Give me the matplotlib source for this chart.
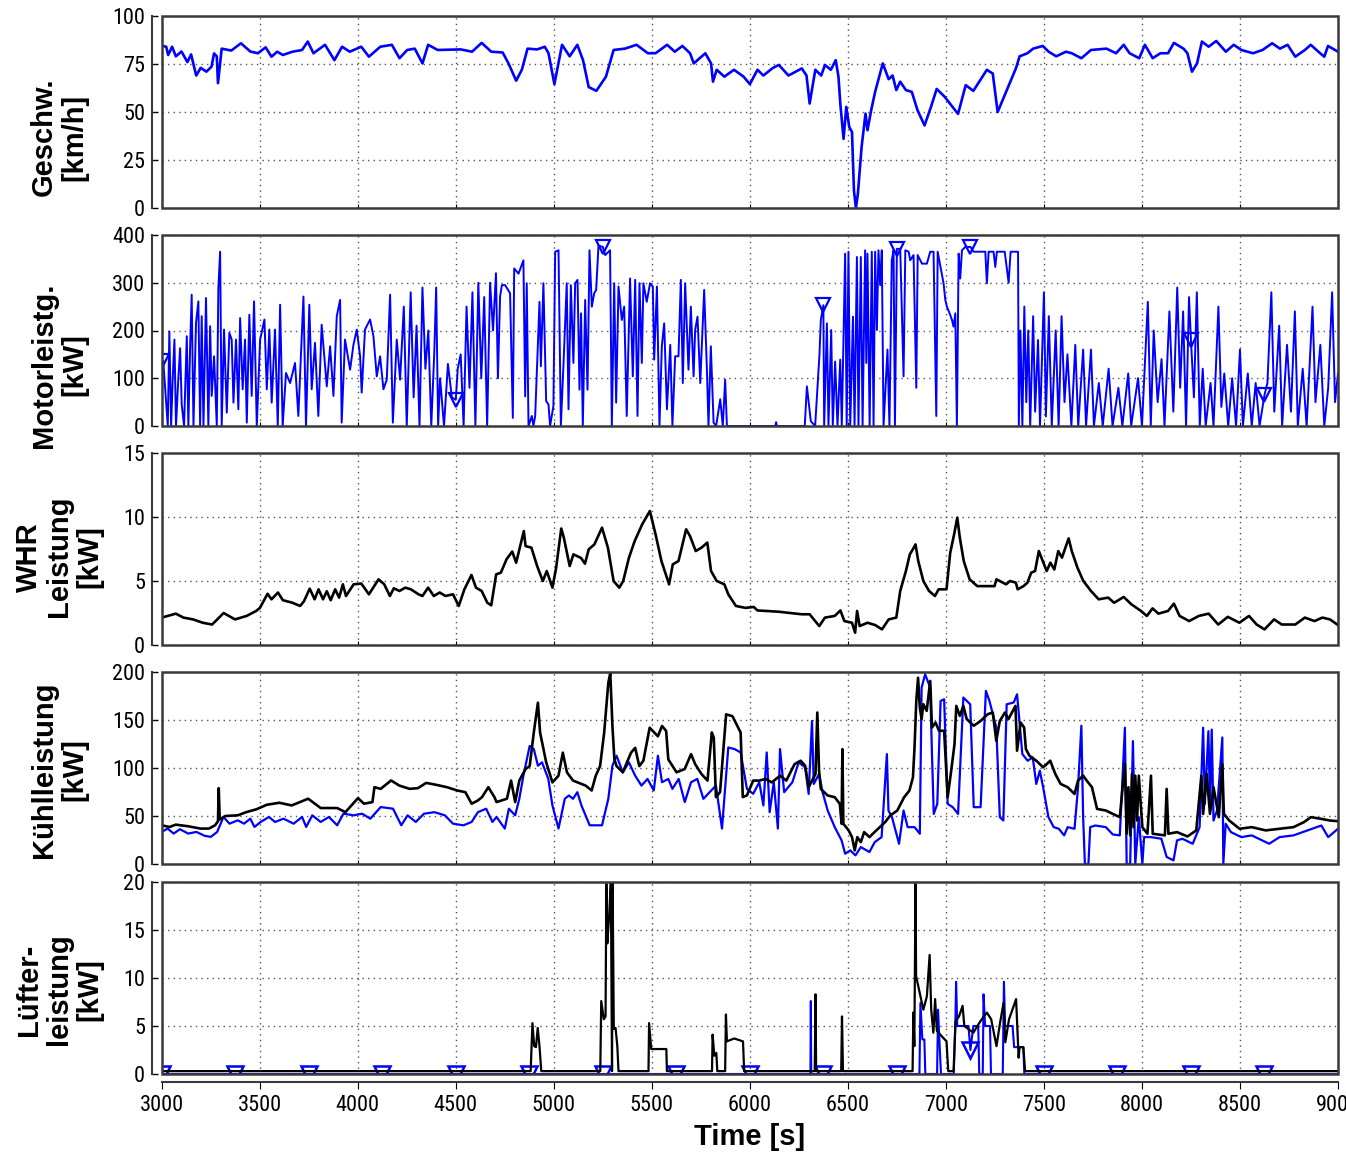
import numpy as np
import matplotlib
matplotlib.use("Agg")
import matplotlib.pyplot as plt
from matplotlib.patches import Rectangle

# ── colours / fonts ───────────────────────────────────────────────────────────
BLUE = "#0000FF"
BLACK = "#000000"
FRAME = "#3a3a3a"
GRID = "#555555"
TICK_FONT = ["Liberation Sans Narrow", "Roboto Condensed", "DejaVu Sans"]
LABEL_FONT = ["Liberation Sans", "DejaVu Sans"]

plt.rcParams["font.family"] = TICK_FONT
plt.rcParams["font.stretch"] = "condensed"

# ── data ──────────────────────────────────────────────────────────────────────
speed_t = [3000, 3023, 3033, 3053, 3072, 3101, 3131, 3150, 3176, 3199, 3228, 3254, 3267, 3281, 3287,
           3306, 3355, 3404, 3452, 3491, 3530, 3560, 3589, 3618, 3667, 3716, 3745, 3774, 3833, 3881,
           3920, 3959, 4018, 4057, 4115, 4174, 4213, 4252, 4291, 4330, 4359, 4408, 4525, 4583, 4632,
           4681, 4739, 4769, 4808, 4837, 4866, 4915, 4954, 4973, 5003, 5042, 5081, 5120, 5149, 5178,
           5217, 5266, 5305, 5363, 5422, 5480, 5519, 5578, 5617, 5656, 5695, 5714, 5773, 5802, 5812,
           5831, 5870, 5919, 5968, 6000, 6039, 6069, 6118, 6148, 6197, 6265, 6289, 6305, 6334, 6364,
           6383, 6413, 6438, 6452, 6462, 6478, 6492, 6507, 6521, 6531, 6541, 6551, 6570, 6590, 6600,
           6619, 6639, 6678, 6708, 6728, 6747, 6767, 6796, 6826, 6855, 6891, 6924, 6953, 6993, 7062,
           7101, 7140, 7209, 7239, 7264, 7307, 7357, 7376, 7416, 7445, 7494, 7524, 7563, 7612, 7642,
           7691, 7740, 7819, 7868, 7907, 7937, 7986, 8015, 8055, 8094, 8133, 8163, 8212, 8232, 8255,
           8281, 8306, 8340, 8379, 8428, 8468, 8507, 8566, 8615, 8664, 8704, 8743, 8782, 8831, 8861,
           8900, 8930, 8949, 9000]
speed_v = [84.5, 84, 79.7, 84, 79, 81.5, 76, 80, 69, 73, 71, 73.6, 80.5, 79, 65,
           83, 82, 85.8, 81.5, 80.6, 83.7, 78.8, 81.4, 79.7, 81.4, 82.3, 86.7, 80.6, 85, 77,
           84, 81.4, 84, 78.8, 84, 85, 78, 82.3, 83, 75.3, 85, 82.3, 82.6, 81.4, 86,
           81.4, 81, 75.3, 66.3, 72, 83, 82.6, 84, 80.6, 64.5, 85, 79, 85, 77, 63,
           61, 68.4, 82.3, 83, 85, 80.6, 80.6, 85, 81.4, 84.4, 80.6, 75.3, 80.6, 75.3, 65.8,
           72, 68.4, 72, 68.4, 64.5, 72, 69, 73, 74.5, 69, 72.7, 69, 54.4, 72, 69,
           74.5, 72, 77, 68.4, 53.6, 36, 52.7, 42.2, 39.6, 9.1, 0, 7.4, 31.8, 49.2, 40.5,
           51, 60.5, 75.3, 67.1, 69, 61.4, 65.8, 61.4, 60.5, 51, 43, 52.7, 62, 58, 49,
           64, 61, 72, 70, 50, 60.5, 72.7, 79, 80.6, 83, 84.4, 81.4, 79, 81.4, 80.6,
           78, 82.3, 83, 80.6, 85, 80.6, 78, 85, 78, 80.6, 80.6, 86, 83, 80.6, 71,
           75.3, 86.7, 84, 87, 81.4, 85, 82.3, 80.6, 82.3, 85.8, 83, 85, 78.8, 82.3, 85,
           81.4, 78.8, 84.4, 81.4]

motor_t = [3000, 3008, 3020, 3031, 3039, 3048, 3056, 3065, 3073, 3085, 3094, 3102, 3114, 3128, 3136,
           3145, 3153, 3162, 3175, 3187, 3196, 3204, 3213, 3226, 3238, 3247, 3255, 3267, 3281, 3289,
           3298, 3306, 3318, 3332, 3345, 3357, 3366, 3379, 3391, 3400, 3413, 3425, 3434, 3447, 3459,
           3471, 3485, 3502, 3524, 3536, 3549, 3561, 3578, 3592, 3604, 3617, 3634, 3655, 3680, 3697,
           3723, 3736, 3753, 3765, 3782, 3799, 3816, 3842, 3859, 3876, 3893, 3910, 3918, 3935, 3961,
           3978, 3995, 4012, 4020, 4037, 4063, 4080, 4097, 4114, 4131, 4148, 4165, 4179, 4199, 4216,
           4235, 4250, 4270, 4285, 4300, 4315, 4330, 4345, 4360, 4375, 4390, 4400, 4410, 4420, 4440,
           4460, 4480, 4500, 4510, 4525, 4540, 4555, 4570, 4585, 4600, 4615, 4630, 4645, 4660, 4675,
           4690, 4705, 4715, 4726, 4735, 4752, 4777, 4791, 4798, 4820, 4845, 4854, 4862, 4871, 4888,
           4896, 4905, 4927, 4934, 4947, 4961, 4973, 4981, 4998, 5007, 5024, 5036, 5049, 5066, 5075,
           5087, 5100, 5109, 5121, 5131, 5139, 5148, 5160, 5172, 5182, 5194, 5206, 5216, 5228, 5250,
           5262, 5287, 5296, 5308, 5318, 5330, 5347, 5359, 5372, 5389, 5403, 5415, 5427, 5437, 5449,
           5457, 5474, 5491, 5505, 5512, 5526, 5539, 5551, 5563, 5577, 5594, 5605, 5619, 5636, 5648,
           5658, 5670, 5687, 5699, 5713, 5721, 5733, 5747, 5755, 5767, 5781, 5789, 5801, 5815, 5828,
           5849, 5862, 5874, 5883, 6130, 6134, 6138, 6280, 6291, 6311, 6333, 6355, 6362, 6375, 6379,
           6393, 6401, 6415, 6423, 6435, 6447, 6461, 6469, 6486, 6494, 6503, 6512, 6526, 6534, 6546,
           6554, 6566, 6575, 6588, 6594, 6600, 6611, 6622, 6631, 6639, 6648, 6656, 6665, 6673, 6682,
           6696, 6702, 6712, 6724, 6733, 6740, 6750, 6767, 6784, 6793, 6810, 6818, 6835, 6849, 6856,
           6878, 6903, 6920, 6937, 6951, 6958, 6988, 6997, 7005, 7019, 7031, 7039, 7048, 7056, 7065,
           7073, 7082, 7099, 7125, 7141, 7175, 7201, 7209, 7218, 7243, 7252, 7260, 7277, 7300, 7320,
           7330, 7350, 7368, 7372, 7380, 7390, 7400, 7410, 7420, 7430, 7445, 7455, 7470, 7480, 7500,
           7510, 7525, 7540, 7560, 7575, 7590, 7605, 7620, 7640, 7660, 7675, 7700, 7715, 7740, 7755,
           7780, 7800, 7830, 7850, 7880, 7900, 7930, 7945, 7980, 8000, 8030, 8045, 8060, 8080, 8100,
           8115, 8140, 8160, 8180, 8195, 8210, 8225, 8240, 8250, 8265, 8280, 8295, 8310, 8325, 8350,
           8365, 8390, 8405, 8420, 8440, 8460, 8480, 8500, 8515, 8540, 8560, 8580, 8600, 8625, 8640,
           8660, 8675, 8700, 8715, 8740, 8760, 8780, 8795, 8820, 8840, 8870, 8885, 8910, 8930, 8950,
           8970, 8985, 9000]
motor_v = [136, 136, 66, 0, 198, 0, 97, 181, 0, 101, 163, 45, 0, 188, 0,
           167, 275, 0, 216, 261, 0, 230, 0, 268, 0, 209, 63, 146, 0, 289,
           365, 0, 202, 28, 195, 181, 49, 181, 35, 226, 77, 181, 7, 233, 63,
           261, 0, 181, 223, 77, 202, 49, 202, 0, 254, 0, 111, 90, 132, 21,
           271, 0, 254, 77, 174, 21, 212, 83, 167, 63, 230, 264, 7, 181, 118,
           170, 202, 146, 70, 202, 223, 188, 104, 146, 77, 97, 275, 7, 181, 97,
           250, 0, 280, 60, 210, 0, 290, 120, 200, 0, 150, 290, 0, 100, 0,
           130, 60, 55, 120, 150, 0, 250, 80, 280, 0, 300, 100, 270, 0, 300,
           200, 320, 100, 271, 295, 295, 278, 17, 330, 319, 347, 62, 299, 0, 21,
           0, 21, 260, 125, 299, 52, 45, 0, 42, 365, 368, 0, 125, 299, 35,
           295, 132, 299, 306, 76, 236, 0, 264, 76, 368, 250, 278, 285, 378, 375,
           358, 368, 0, 299, 49, 292, 222, 250, 21, 309, 104, 306, 21, 299, 132,
           299, 260, 299, 292, 139, 292, 0, 167, 215, 35, 170, 0, 146, 146, 306,
           90, 299, 118, 250, 104, 201, 229, 90, 167, 285, 118, 0, 167, 7, 0,
           56, 0, 97, 0, 0, 8, 0, 0, 83, 10, 0, 149, 222, 253, 0,
           215, 0, 201, 0, 135, 0, 139, 0, 361, 0, 365, 0, 229, 0, 354,
           0, 354, 0, 368, 132, 361, 0, 365, 0, 365, 201, 368, 295, 368, 0,
           111, 160, 0, 347, 368, 0, 371, 371, 104, 368, 365, 347, 358, 80, 358,
           340, 340, 365, 365, 21, 365, 299, 264, 250, 236, 222, 208, 236, 0, 361,
           309, 368, 375, 375, 365, 365, 365, 299, 365, 365, 333, 365, 365, 365, 300,
           365, 365, 365, 0, 200, 0, 250, 50, 200, 0, 230, 30, 180, 0, 280,
           20, 230, 0, 200, 0, 230, 50, 150, 0, 170, 0, 160, 0, 160, 0,
           90, 0, 120, 0, 80, 0, 110, 0, 100, 0, 260, 0, 200, 50, 140,
           0, 240, 30, 290, 80, 240, 0, 270, 180, 60, 280, 0, 120, 0, 90,
           0, 250, 40, 110, 0, 100, 0, 160, 0, 110, 0, 90, 0, 65, 90,
           280, 30, 210, 0, 170, 30, 240, 0, 120, 0, 250, 50, 170, 0, 80,
           280, 50, 110]
motor_mark_t = [3000, 4500, 5250, 6375, 6750, 7125, 8250, 8625]

whr_t = [3000, 3072, 3111, 3160, 3209, 3257, 3277, 3316, 3374, 3433, 3482, 3501, 3540, 3560, 3593,
         3618, 3667, 3706, 3725, 3755, 3780, 3800, 3823, 3842, 3862, 3885, 3905, 3924, 3940, 3979,
         4018, 4057, 4106, 4135, 4164, 4184, 4213, 4242, 4271, 4310, 4330, 4359, 4388, 4418, 4447,
         4486, 4515, 4544, 4580, 4603, 4632, 4661, 4681, 4706, 4730, 4759, 4788, 4808, 4847, 4856,
         4886, 4915, 4944, 4964, 4993, 5012, 5038, 5051, 5081, 5100, 5139, 5159, 5178, 5207, 5246,
         5276, 5305, 5334, 5354, 5383, 5412, 5451, 5490, 5519, 5549, 5588, 5607, 5636, 5675, 5695,
         5724, 5753, 5783, 5802, 5831, 5870, 5890, 5929, 5978, 6020, 6039, 6147, 6265, 6305, 6354,
         6383, 6433, 6462, 6482, 6521, 6537, 6547, 6560, 6600, 6639, 6674, 6708, 6747, 6767, 6796,
         6816, 6836, 6845, 6859, 6885, 6914, 6944, 6963, 7003, 7022, 7042, 7058, 7071, 7091, 7121,
         7160, 7248, 7258, 7307, 7327, 7357, 7366, 7396, 7416, 7435, 7455, 7474, 7494, 7514, 7533,
         7553, 7573, 7592, 7626, 7642, 7671, 7701, 7740, 7779, 7828, 7858, 7907, 7946, 7995, 8025,
         8054, 8084, 8133, 8163, 8192, 8241, 8290, 8340, 8389, 8438, 8497, 8546, 8585, 8625, 8674,
         8713, 8782, 8831, 8880, 8920, 8959, 9000]
whr_v = [2.14, 2.45, 2.14, 2.0, 1.74, 1.6, 1.9, 2.5, 2.0, 2.27, 2.66, 2.9, 4.0, 3.57, 4.1,
         3.5, 3.3, 3.05, 3.4, 4.4, 3.57, 4.35, 3.57, 4.2, 3.5, 4.35, 3.7, 4.74, 3.83, 4.74,
         4.8, 3.96, 5.13, 4.74, 3.83, 4.43, 4.22, 4.48, 4.35, 3.96, 3.83, 4.48, 3.83, 4.1, 3.83,
         3.96, 3.05, 4.35, 5.47, 4.48, 4.22, 3.3, 3.1, 5.52, 5.65, 6.7, 7.3, 6.43, 8.9, 7.73,
         7.6, 6.17, 5.0, 5.78, 4.48, 6.04, 9.1, 8.4, 6.17, 7.08, 6.8, 6.35, 7.47, 7.86, 9.17,
         7.6, 5.0, 4.48, 5.0, 6.8, 8.1, 9.43, 10.47, 8.65, 6.56, 4.74, 6.3, 6.56, 9.04, 8.5,
         7.34, 7.6, 8.0, 5.78, 5.0, 4.74, 3.96, 3.05, 2.9, 2.97, 2.7, 2.6, 2.4, 2.4, 1.48,
         2.14, 2.27, 2.7, 1.87, 1.74, 0.96, 2.66, 1.48, 1.74, 1.56, 1.22, 2.0, 2.14, 4.22, 5.78,
         7.08, 7.6, 7.86, 6.56, 5.0, 4.22, 3.83, 4.35, 4.35, 7.2, 8.65, 9.95, 8.39, 6.56, 5.13,
         4.6, 4.6, 5.13, 4.74, 5.0, 4.87, 4.35, 4.6, 4.87, 5.65, 5.78, 7.34, 6.56, 5.78, 6.43,
         5.9, 7.34, 6.82, 8.33, 7.34, 6.04, 5.0, 4.22, 3.57, 3.7, 3.3, 3.75, 3.18, 2.66, 2.27,
         2.86, 2.45, 2.66, 3.23, 2.27, 1.87, 2.27, 2.45, 1.6, 2.2, 1.74, 2.27, 1.6, 1.22, 2.0,
         1.6, 1.6, 2.14, 1.87, 2.14, 2.0, 1.56]

kuehl_blk_t = [3000, 3040, 3072, 3135, 3198, 3241, 3272, 3287, 3291, 3296, 3325, 3388, 3431, 3483, 3536,
               3600, 3663, 3747, 3811, 3895, 3937, 4001, 4032, 4075, 4085, 4117, 4170, 4212, 4264, 4307,
               4349, 4402, 4455, 4507, 4549, 4581, 4613, 4634, 4666, 4697, 4708, 4761, 4782, 4803, 4824,
               4856, 4877, 4898, 4919, 4930, 4961, 4993, 5024, 5046, 5067, 5098, 5162, 5193, 5214, 5236,
               5257, 5278, 5288, 5299, 5309, 5320, 5352, 5394, 5415, 5436, 5457, 5489, 5531, 5552, 5573,
               5584, 5626, 5668, 5700, 5721, 5753, 5784, 5806, 5816, 5827, 5848, 5879, 5911, 5953, 5964,
               5985, 6017, 6048, 6080, 6112, 6154, 6186, 6228, 6259, 6282, 6300, 6317, 6335, 6344, 6353,
               6362, 6397, 6433, 6459, 6468, 6472, 6477, 6504, 6521, 6535, 6548, 6566, 6583, 6610, 6645,
               6690, 6716, 6752, 6787, 6814, 6832, 6840, 6849, 6858, 6867, 6876, 6885, 6902, 6920, 6929,
               6947, 6965, 6991, 7009, 7027, 7044, 7053, 7071, 7089, 7106, 7142, 7177, 7213, 7239, 7257,
               7275, 7301, 7319, 7355, 7363, 7381, 7399, 7408, 7426, 7461, 7479, 7496, 7514, 7532, 7558,
               7585, 7621, 7656, 7674, 7700, 7718, 7745, 7771, 7816, 7851, 7887, 7913, 7922, 7931, 7940,
               7949, 7957, 7966, 7975, 7984, 8002, 8028, 8046, 8055, 8117, 8126, 8135, 8179, 8232, 8277,
               8303, 8312, 8330, 8347, 8365, 8392, 8410, 8418, 8445, 8498, 8560, 8631, 8702, 8773, 8826,
               8862, 8915, 8959, 9000]
kuehl_blk_v = [40.3, 38.6, 41, 39.3, 36.9, 36.9, 40.3, 44.5, 79, 46.5, 50, 50.7, 54, 57, 61.7,
               63.8, 61, 68, 58.3, 58.3, 54, 68.6, 62.8, 64.5, 80, 78.3, 87, 81.7, 78.3, 79,
               84.5, 82.4, 80, 76.6, 74.8, 62.8, 66.2, 69.7, 80, 69.7, 64.5, 68, 86.9, 64.5, 86.9,
               99, 102, 137, 168, 137, 106, 85, 92, 116, 95.5, 86.9, 81.7, 76.6, 92, 102,
               137, 188.6, 199, 143.8, 109, 102, 95.5, 116, 121, 102, 107.6, 142, 133, 143.8, 138.6,
               109, 95.5, 99, 114.5, 104, 93.8, 86.9, 137, 131.7, 69.7, 74.8, 155.9, 154, 137, 69.7,
               71.4, 86.9, 86.9, 88.6, 85, 92, 86.9, 104, 107.6, 102.4, 80, 86.9, 93.8, 157.8, 97.2,
               78.2, 71.3, 69.6, 62.6, 41.9, 119.7, 41.9, 35, 28, 14.2, 28, 22.8, 33.2, 28, 35,
               43.6, 50.5, 55.7, 69.6, 76.5, 90.3, 121.5, 170, 194, 163, 151, 166.4, 159.5, 190.7, 142.2,
               147.4, 138.8, 138.8, 69.6, 97.2, 125, 164.7, 154.3, 164.7, 151, 144, 149, 156, 157.8, 128.4,
               149, 157.8, 151, 164.7, 118, 147.4, 142.2, 119.7, 112.8, 107.6, 104, 100.7, 104, 107.6, 93.8,
               83.4, 80, 73, 86.9, 92, 86.9, 80, 57.4, 55.7, 52.2, 48.8, 104, 31.5, 80, 29.8,
               93.8, 38.4, 92, 45.3, 92, 38.4, 31.5, 92, 31.5, 29.8, 78.2, 31.5, 33.2, 28.7, 35,
               92, 52.2, 93.8, 52.2, 80, 48.8, 104, 52.2, 45.3, 36.7, 38.4, 35, 36.7, 38.4, 43.6,
               48.8, 47, 45.3, 44.6]

kuehl_blu_t = [3000, 3030, 3061, 3093, 3135, 3177, 3220, 3251, 3283, 3315, 3346, 3388, 3420, 3452, 3473,
               3505, 3547, 3578, 3621, 3673, 3716, 3737, 3768, 3811, 3853, 3895, 3927, 3980, 4022, 4064,
               4117, 4180, 4222, 4254, 4296, 4338, 4391, 4444, 4486, 4539, 4581, 4613, 4655, 4687, 4708,
               4750, 4771, 4803, 4824, 4845, 4877, 4898, 4919, 4940, 4972, 4993, 5024, 5056, 5077, 5098,
               5120, 5141, 5183, 5246, 5278, 5299, 5320, 5352, 5383, 5415, 5447, 5478, 5510, 5531, 5552,
               5584, 5605, 5637, 5668, 5700, 5732, 5763, 5795, 5827, 5858, 5890, 5922, 5953, 5985, 6017,
               6048, 6069, 6086, 6101, 6122, 6143, 6154, 6175, 6217, 6249, 6282, 6300, 6317, 6326, 6353,
               6371, 6397, 6433, 6468, 6486, 6512, 6539, 6566, 6610, 6637, 6672, 6699, 6707, 6725, 6761,
               6784, 6805, 6840, 6867, 6876, 6894, 6920, 6929, 6938, 6956, 6973, 6991, 7009, 7035, 7062,
               7089, 7124, 7142, 7177, 7204, 7222, 7257, 7275, 7293, 7310, 7346, 7363, 7390, 7417, 7443,
               7461, 7479, 7496, 7523, 7550, 7576, 7603, 7621, 7656, 7674, 7691, 7700, 7709, 7727, 7736,
               7762, 7816, 7851, 7887, 7913, 7922, 7940, 7954, 7966, 7984, 8002, 8011, 8046, 8099, 8126,
               8161, 8179, 8206, 8259, 8294, 8312, 8321, 8339, 8347, 8356, 8365, 8383, 8410, 8415, 8427,
               8454, 8507, 8560, 8649, 8702, 8773, 8844, 8915, 8950, 9000]
kuehl_blu_v = [33.4, 36.9, 31.7, 36.2, 31.7, 33.4, 29.3, 28.3, 33.4, 49, 42, 45.5, 42, 47.2, 38.6,
               43.8, 49, 43.8, 47.2, 42, 49, 38.6, 50.7, 43.8, 49, 40.3, 52.4, 50.7, 52.4, 47.2,
               59.3, 57.6, 40.3, 50.7, 43.8, 52.4, 54, 50.7, 42, 40.3, 43.8, 54, 57.6, 43.8, 49,
               36.9, 57.6, 50.7, 67.9, 92, 123, 119.7, 102.4, 105.9, 88.6, 61, 36.9, 67.9, 71.4, 67.9,
               74.8, 61, 40.3, 40.3, 67.9, 102.4, 112.8, 95.5, 105.9, 92, 81.7, 88.6, 76.6, 112.8, 85.2,
               88.6, 78.3, 88.6, 64.5, 85.2, 88.6, 67.9, 74.8, 81.7, 36.9, 121.4, 119.7, 116.2, 78.3, 73.1,
               85.2, 61, 116.2, 54, 85.2, 36.9, 119.7, 74.8, 85.2, 105.9, 100.7, 73, 149, 83.4, 93.8,
               74.7, 55.7, 38.4, 24.6, 10.7, 14.2, 9, 17.6, 12.5, 22.8, 28, 114.5, 55.7, 48.8, 21.1,
               55.7, 38.4, 38.4, 31.5, 183.7, 197.6, 183.7, 114.5, 52.2, 62.6, 169.9, 171.6, 62.6, 59.2, 52.2,
               173.4, 166.4, 59.2, 59.2, 180.3, 169.9, 142.2, 48.8, 45.3, 166.4, 168.2, 176.8, 114.5, 107.6, 111,
               83.4, 97.2, 80, 48.8, 38.4, 36.7, 29.8, 38.4, 36.7, 80, 144, 48.8, 0, 0, 38.4,
               40.1, 38.4, 30.8, 29.8, 142, 0, 0, 128, 0, 48.8, 0, 28, 28, 26.3, 7.3,
               3.8, 24.6, 26.3, 21.1, 38.4, 142, 62.6, 138.4, 62.6, 140, 45.3, 55.7, 131.8, 0, 41.9,
               33.2, 28, 29.8, 21.1, 28, 29.8, 35, 40.1, 28, 36.7]

luft_blk_t = [3000, 4882, 4891, 4900, 4909, 4918, 4927, 4936, 5237, 5242, 5255, 5264, 5268, 5273, 5282,
              5291, 5297, 5300, 5306, 5315, 5324, 5330, 5483, 5486, 5497, 5574, 5577, 5807, 5810, 5819,
              5829, 5834, 5874, 5878, 5883, 5920, 5965, 5971, 6331, 6335, 6338, 6466, 6470, 6475, 6830,
              6834, 6839, 6845, 6848, 6867, 6885, 6903, 6917, 6925, 6936, 6945, 6954, 6976, 7003, 7012,
              7039, 7049, 7067, 7085, 7094, 7140, 7176, 7209, 7231, 7258, 7276, 7294, 7303, 7322, 7358,
              7371, 7376, 7395, 7404, 9000]
luft_blk_v = [0.3, 0.3, 5.3, 2.9, 2.8, 4.8, 2.9, 0.3, 0.3, 7.6, 5.7, 6.0, 19.8, 13.6, 16.4,
              20, 0.3, 20, 4.7, 4.8, 2.9, 0.3, 0.3, 5.3, 2.6, 2.6, 0.3, 0.3, 4.1, 1.9,
              2.2, 0.3, 0.3, 6.2, 3.4, 3.7, 3.4, 0.3, 0.3, 8.3, 0.3, 0.3, 6.0, 0.3, 0.3,
              6.4, 2.9, 19.8, 10.2, 8.4, 6.7, 8.1, 12.4, 6.7, 4.3, 7.8, 4.5, 4.0, 3.4, 0.3,
              0.3, 5.5, 6.0, 7.1, 5.0, 4.3, 5.5, 6.4, 5.7, 2.9, 5.3, 7.4, 3.3, 5.7, 7.8,
              1.7, 2.8, 2.8, 0.3, 0.3]

luft_blu_t = [3000, 6309, 6311, 6313, 6865, 6870, 6880, 6890, 6895, 6955, 6960, 6968, 6975, 7040, 7048,
              7052, 7058, 7115, 7125, 7140, 7165, 7170, 7188, 7192, 7200, 7225, 7230, 7290, 7296, 7302,
              7340, 7348, 7395, 7400, 9000]
luft_blu_v = [0, 0, 7.6, 0, 0, 7.4, 3.6, 3.6, 0, 0, 6.7, 3.0, 0, 0, 5.0,
              9.6, 5.0, 5.0, 2.5, 5.0, 5.0, 0, 0, 8.3, 5.0, 5.0, 0, 0, 9.6, 5.0,
              5.0, 2.8, 2.8, 0, 0]
luft_mark_t = [3000, 3375, 3750, 4125, 4500, 4875, 5250, 5625, 6000, 6375,
               6750, 7125, 7500, 7875, 8250, 8625]

x_ticks = [3000, 3500, 4000, 4500, 5000, 5500, 6000, 6500, 7000, 7500, 8000, 8500, 9000]

panels = [
    ("Geschw.\n[km/h]", [0, 25, 50, 75, 100], 0.37),
    ("Motorleistg.\n[kW]", [0, 100, 200, 300, 400], 0.32),
    ("WHR\nLeistung\n[kW]", [0, 5, 10, 15], 0.46),
    ("Kühlleistung\n[kW]", [0, 50, 100, 150, 200], 0.49),
    ("Lüfter-\nleistung\n[kW]", [0, 5, 10, 15, 20], 0.44),
]
# pixel extents (top, bottom) of each panel in the 1346x1153 canvas
panel_px = [(16, 208), (235, 426), (453, 645), (672, 864), (882, 1074)]

W, H = 1346, 1153
X0, X1 = 161.7, 1338.0

fig = plt.figure(figsize=(W / 100, H / 100), dpi=100)
axes = []
for (top, bot), (label, yticks, ly) in zip(panel_px, panels):
    ax = fig.add_axes([X0 / W, 1 - bot / H, (X1 - X0) / W, (bot - top) / H])
    ax.set_xlim(3000, 9000)
    ax.set_ylim(yticks[0], yticks[-1])
    ax.set_xticks(x_ticks)
    ax.set_yticks(yticks)
    ax.grid(True, linestyle=(0, (1, 3)), color=GRID, lw=1.0)
    for s in ("top", "right", "bottom"):
        ax.spines[s].set_visible(False)
    ax.spines["left"].set_position(("outward", 7))
    ax.spines["left"].set_color(FRAME)
    ax.spines["left"].set_linewidth(1.5)
    ax.add_patch(Rectangle((0, 0), 1, 1, transform=ax.transAxes, fill=False,
                           edgecolor=FRAME, lw=1.8, zorder=10, clip_on=False))
    ax.tick_params(axis="y", direction="in", length=4, width=1, labelsize=16, pad=5,
                   colors=BLACK)
    ax.tick_params(axis="x", direction="in", length=3, labelbottom=False)
    ax.set_ylabel(label, family=LABEL_FONT, fontweight="bold", fontsize=21,
                  fontstretch="normal", linespacing=1.1, va="center", ha="center")
    ax.yaxis.set_label_coords(-0.0873, ly)
    axes.append(ax)

ax_v, ax_m, ax_w, ax_k, ax_l = axes

ax_v.plot(speed_t, speed_v, color=BLUE, lw=1.9)

idx = [int(np.argmin(np.abs(np.array(motor_t) - m))) for m in motor_mark_t]
ax_m.plot(motor_t, motor_v, color=BLUE, lw=1.4, marker="v", markevery=idx,
          markersize=10, markerfacecolor="none", markeredgecolor=BLUE, markeredgewidth=1.6)

ax_w.plot(whr_t, whr_v, color=BLACK, lw=1.9)

ax_k.plot(kuehl_blu_t, kuehl_blu_v, color=BLUE, lw=1.6)
ax_k.plot(kuehl_blk_t, kuehl_blk_v, color=BLACK, lw=1.9)

ax_l.plot(luft_blu_t, luft_blu_v, color=BLUE, lw=1.5)
ax_l.plot(luft_mark_t, np.interp(luft_mark_t, luft_blu_t, luft_blu_v), linestyle="none",
          marker="v", markersize=11, markerfacecolor="none", markeredgecolor=BLUE,
          markeredgewidth=1.8)
ax_l.plot(luft_blk_t, luft_blk_v, color=BLACK, lw=1.6)

# bottom panel carries the time axis, slightly offset below the frame
ax_l.spines["bottom"].set_visible(True)
ax_l.spines["bottom"].set_position(("outward", 6))
ax_l.spines["bottom"].set_color(FRAME)
ax_l.spines["bottom"].set_linewidth(1.5)
ax_l.tick_params(axis="x", direction="out", length=5, labelbottom=True, labelsize=16, pad=4)
ax_l.set_xlabel("Time [s]", family=LABEL_FONT, fontweight="bold", fontsize=21,
                fontstretch="normal", labelpad=5)

fig.savefig("out.png", dpi=100)
